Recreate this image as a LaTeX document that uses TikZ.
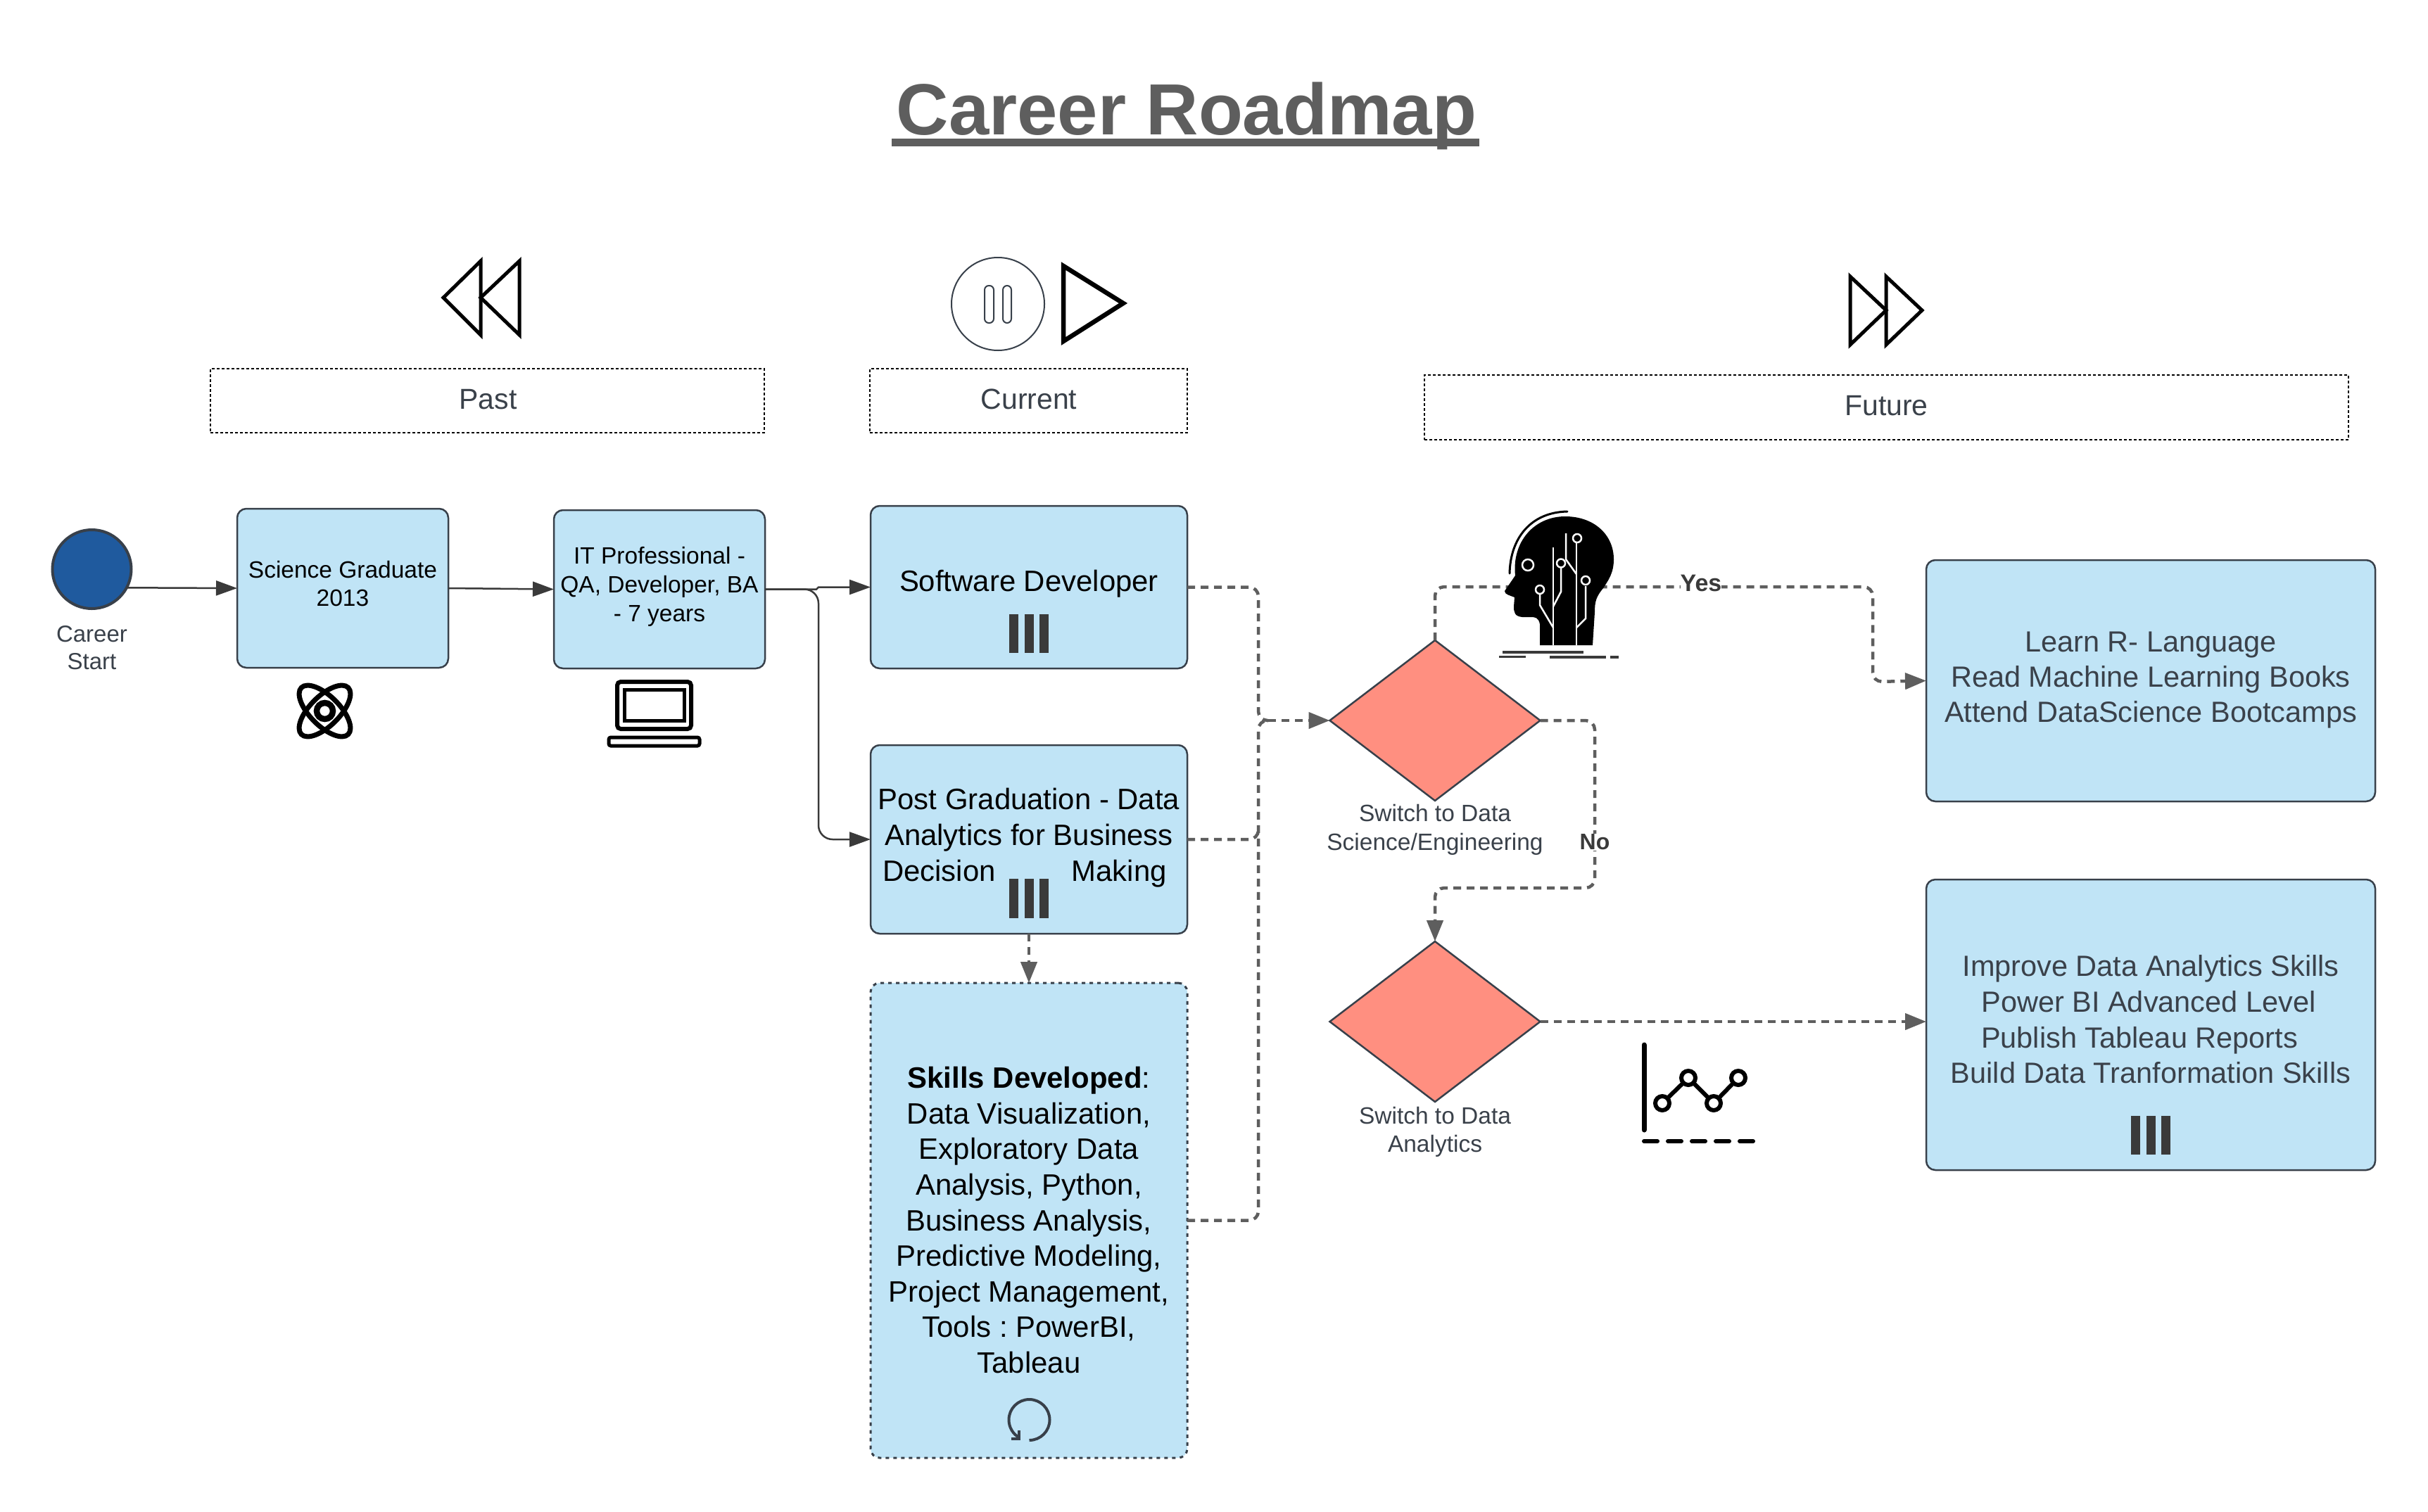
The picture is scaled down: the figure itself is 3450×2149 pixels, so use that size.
\documentclass[tikz,border=0pt]{standalone}
\usepackage{fontspec}
\setmainfont{Liberation Sans}
\usetikzlibrary{arrows.meta,shapes.geometric,calc}
\frenchspacing
\definecolor{boxfill}{HTML}{C0E4F6}
\definecolor{boxline}{HTML}{38404A}
\definecolor{txt}{HTML}{3A414A}
\definecolor{dashc}{HTML}{5E5E5E}
\definecolor{solidc}{HTML}{3A3A3A}
\definecolor{dia}{HTML}{FF8F80}
\definecolor{startblue}{HTML}{1F5A9E}
\definecolor{titlec}{HTML}{5E5E5E}
\newcommand{\fsz}[2]{\fontsize{#1pt}{#2pt}\selectfont}
\tikzset{
  x=1pt,y=-1pt,
  box/.style={draw=boxline,fill=boxfill,line width=2.5pt,rounded corners=13pt,inner sep=0pt,outer sep=0pt},
  dotbox/.style={box,dash pattern=on 5pt off 6pt,line width=3pt},
  band/.style={draw=black,line width=2.5pt,dash pattern=on 4pt off 3pt,inner sep=0pt,outer sep=0pt},
  decision/.style={diamond,aspect=1.31,draw=boxline,fill=dia,line width=2.5pt,inner sep=0pt,outer sep=0pt,minimum width=299pt,minimum height=228pt},
  t42/.style={align=center,inner sep=0pt,font=\fsz{41.9}{51}},
  t33/.style={align=center,inner sep=0pt,font=\fsz{33.5}{40}},
  solidarrow/.style={draw=solidc,line width=2.5pt,rounded corners=20pt,-{Triangle[length=30pt,width=21pt]}},
  dasharrow/.style={draw=dashc,line width=4.5pt,dash pattern=on 11pt off 8pt,rounded corners=13pt,-{Triangle[length=30pt,width=23pt]}},
  dashline/.style={draw=dashc,line width=4.5pt,dash pattern=on 11pt off 8pt,rounded corners=13pt},
  iconk/.style={draw=black,line width=7pt,line cap=round,line join=round},
}
\begin{document}
\begin{tikzpicture}
\useasboundingbox (0,0) rectangle (3450,2149);
\fill[white] (0,0) rectangle (3450,2149);

% title
\node[font=\bfseries\fsz{103}{118},text=titlec,inner sep=0pt,anchor=base] (title) at (1686,191) {Career Roadmap};
\fill[titlec] (1267,197) rectangle (2102,208);

% band boxes
\node[band,minimum width=787pt,minimum height=91pt] (past) at (692.5,569.5) {};
\node[band,minimum width=451pt,minimum height=91pt] (current) at (1461.5,569.5) {};
\node[band,minimum width=1313pt,minimum height=92pt] (future) at (2680.5,579) {};
\node[font=\fsz{41}{48},text=txt,inner sep=0pt] (pastT) at (693.5,568) {Past};
\node[font=\fsz{41}{48},text=txt,inner sep=0pt] (currentT) at (1462,567.5) {Current};
\node[font=\fsz{41}{48},text=txt,inner sep=0pt] (futureT) at (2680.5,577) {Future};

% media icons
\draw[draw=black,line width=5pt,line join=miter] (683,371) -- (630,423) -- (683,476) -- cycle;
\draw[draw=black,line width=5pt,line join=miter] (738,371) -- (683,423) -- (738,476) -- cycle;
\draw[draw=boxline,line width=2pt] (1418,432) circle (66);
\draw[draw=boxline,line width=2pt,rounded corners=6pt] (1399,406) rectangle (1412,459);
\draw[draw=boxline,line width=2pt,rounded corners=6pt] (1425,406) rectangle (1437,459);
\draw[draw=black,line width=6.5pt,line join=miter] (1511,378) -- (1596,431) -- (1511,485) -- cycle;
\draw[draw=black,line width=5pt,line join=miter] (2629,393) -- (2680,441) -- (2629,490) -- cycle;
\draw[draw=black,line width=5pt,line join=miter] (2680,393) -- (2731,441) -- (2680,490) -- cycle;

% start
\node[circle,draw=boxline,fill=startblue,line width=4pt,minimum size=112pt,inner sep=0pt,outer sep=0pt] (start) at (130.5,809) {};
\node[t33,font=\fsz{33}{39},text=txt] (startT) at (130.5,920.5) {Career\\Start};

% task boxes
\node[box,minimum width=300pt,minimum height=226pt] (sci) at (487,836) {};
\node[t33] (sciT) at (487,830) {Science Graduate\\2013};
\node[box,minimum width=300pt,minimum height=225pt] (it) at (937,837.5) {};
\node[t33,font=\fsz{33.5}{41}] (itT) at (937,834) {IT Professional -\\QA, Developer, BA\\- 7 years};
\node[box,minimum width=450pt,minimum height=231pt] (sw) at (1462,834.5) {};
\node[t42] (swT) at (1462,830) {Software Developer};
\node[box,minimum width=450pt,minimum height=268pt] (pg) at (1462,1193) {};
\node[t42] (pgT) at (1462,1191) {Post Graduation - Data\\Analytics for Business\\Decision\hspace{108pt}Making\rule{12pt}{0pt}};
\node[dotbox,minimum width=450pt,minimum height=675pt] (sk) at (1462,1734.5) {};
\node[t42,font=\fsz{41.9}{50.6}] (skT) at (1462,1734) {\textbf{Skills Developed}:\\Data Visualization,\\Exploratory Data\\Analysis, Python,\\Business Analysis,\\Predictive Modeling,\\Project Management,\\Tools : PowerBI,\\Tableau};
\node[box,minimum width=638pt,minimum height=343pt] (learn) at (3056,967.5) {};
\node[t42,text=txt,font=\fsz{41.5}{50}] (learnT) at (3056,967) {Learn R- Language\\Read Machine Learning Books\\Attend DataScience Bootcamps};
\node[box,minimum width=638pt,minimum height=413pt] (imp) at (3056,1456.5) {};
\node[t42,text=txt,font=\fsz{41.5}{50.6}] (impT) at (3056,1449) {Improve Data Analytics Skills\\Power BI Advanced Level\rule{6pt}{0pt}\\Publish Tableau Reports\rule{32pt}{0pt}\\Build Data Tranformation Skills};

% three-bar markers
\foreach \cx/\ta/\tb in {1462/873/928,1462/1249/1305,3056/1586/1641}{
  \fill[solidc] ({\cx-28},\ta) rectangle ({\cx-15},\tb);
  \fill[solidc] ({\cx-6.5},\ta) rectangle ({\cx+6.5},\tb);
  \fill[solidc] ({\cx+15},\ta) rectangle ({\cx+28},\tb);
}

% loop marker
\draw[draw=boxline,line width=4pt] (1462.5,2047) arc[start angle=-90,end angle=242,radius=29pt];
\draw[draw=boxline,line width=4.5pt] (1448,2033) -- (1448,2045) -- (1437,2045);

% decisions
\node[decision] (d1) at (2039,1024) {};
\node[decision] (d2) at (2039,1452) {};
\node[t33,font=\fsz{33.5}{41},text=txt] (d1T) at (2039,1179) {Switch to Data\\Science/Engineering};
\node[t33,font=\fsz{33.5}{40},text=txt] (d2T) at (2039,1609) {Switch to Data\\Analytics};

% solid connectors
\path[solidarrow] (start.-28) -- (sci.west);
\path[solidarrow] (sci.east) -- (it.west);
\path[solidarrow,rounded corners=0pt] (it.east) -- (1160,837.5) -- (1163,834.5) -- (sw.west);
\path[solidarrow] (it.east) -- (1163,837.5) -- (1163,1193) -- (pg.west);

% dashed connectors
\coordinate (merge) at (1802,1024);
\path[dashline] (sw.east) -- (1788,834.5) -- (1788,1024) -- (merge);
\path[dashline] (pg.east) -- (1788,1193) -- (1788,1178);
\path[dashline] (sk.east) -- (1788,1734.5) -- (1788,1024) -- (merge);
\path[dasharrow] (merge) -- (d1.west);
\path[dasharrow] (pg.south) -- (sk.north);
\path[dasharrow] (d1.north) -- (2039,834) -- (2661,834) -- (2661,969) -- (learn.west);
\path[dasharrow] (d1.east) -- (2266,1024) -- (2266,1262) -- (2039,1262) -- (d2.north);
\path[dasharrow] (d2.east) -- (d2.east -| imp.west);
\node[fill=white,inner sep=0pt,font=\bfseries\fsz{34}{38},text=solidc] (yes) at (2417,829) {Yes};
\node[fill=white,inner sep=1pt,font=\bfseries\fsz{32}{36},text=solidc] (no) at (2266,1197) {No};

% atom icon
\begin{scope}[draw=black]
  \draw[line width=7pt,rotate around={45:(461.5,1010.5)}] (461.5,1010.5) ellipse [x radius=47,y radius=21];
  \draw[line width=7pt,rotate around={-45:(461.5,1010.5)}] (461.5,1010.5) ellipse [x radius=47,y radius=21];
  \draw[line width=8.5pt] (461.5,1010.5) circle (11.5);
\end{scope}

% laptop icon
\draw[draw=black,line width=6pt,rounded corners=5pt] (877,969) rectangle (982,1036);
\draw[draw=black,line width=5pt] (887,980) rectangle (972,1024);
\draw[draw=black,line width=5pt,rounded corners=3pt] (865,1048) rectangle (994,1060);

% head icon
\fill[black] (2263,917) -- (2188,917) -- (2188,887)
  .. controls (2186,878) and (2182,877) .. (2175,877)
  -- (2163,877) .. controls (2152,876) and (2151,870) .. (2151,862)
  -- (2152,849) .. controls (2145,846) and (2138,845) .. (2138,840)
  -- (2153,818) .. controls (2148,770) and (2180,734) .. (2224,734)
  .. controls (2265,734) and (2293,760) .. (2293,795)
  .. controls (2293,815) and (2285,825) .. (2278,836)
  .. controls (2268,848) and (2266,855) .. (2266,870) -- cycle;
\draw[black,line width=3pt,line cap=round] (2145,815) .. controls (2146,765) and (2175,728) .. (2227,727);
\begin{scope}[draw=white,line width=2.5pt]
  \draw (2207,778) -- (2207,917);
  \draw (2218,806) -- (2218,841) -- (2207,862);
  \draw (2225,758) -- (2225,795) -- (2240,816);
  \draw (2240,772) -- (2240,917);
  \draw (2253,833) -- (2253,879) -- (2240,892);
  \draw (2188,845) -- (2188,860) -- (2207,892);
  \draw (2171,803) circle (8);
  \draw (2218,800.5) circle (6);
  \draw (2241,765) circle (6);
  \draw (2253,825) circle (6);
  \draw (2188,838) circle (6);
\end{scope}
\draw[draw=solidc,line width=3.5pt] (2135,927) -- (2250,927) (2130,933.5) -- (2168,933.5) (2202,934) -- (2282,934) (2288,934) -- (2300,934);

% chart icon
\draw[iconk] (2336,1485) -- (2336,1606);
\draw[iconk,line width=6pt] (2362,1568) -- (2399,1532) -- (2435,1568) -- (2470,1532);
\foreach \px/\py in {2362/1568,2399/1532,2435/1568,2470/1532}
  \draw[draw=black,fill=white,line width=6pt] (\px,\py) circle (10);
\foreach \ax/\bx in {2336/2355,2370/2389,2404/2423,2438/2457,2472/2491}
  \draw[iconk,line width=6pt] (\ax,1622) -- (\bx,1622);
\end{tikzpicture}
\end{document}
